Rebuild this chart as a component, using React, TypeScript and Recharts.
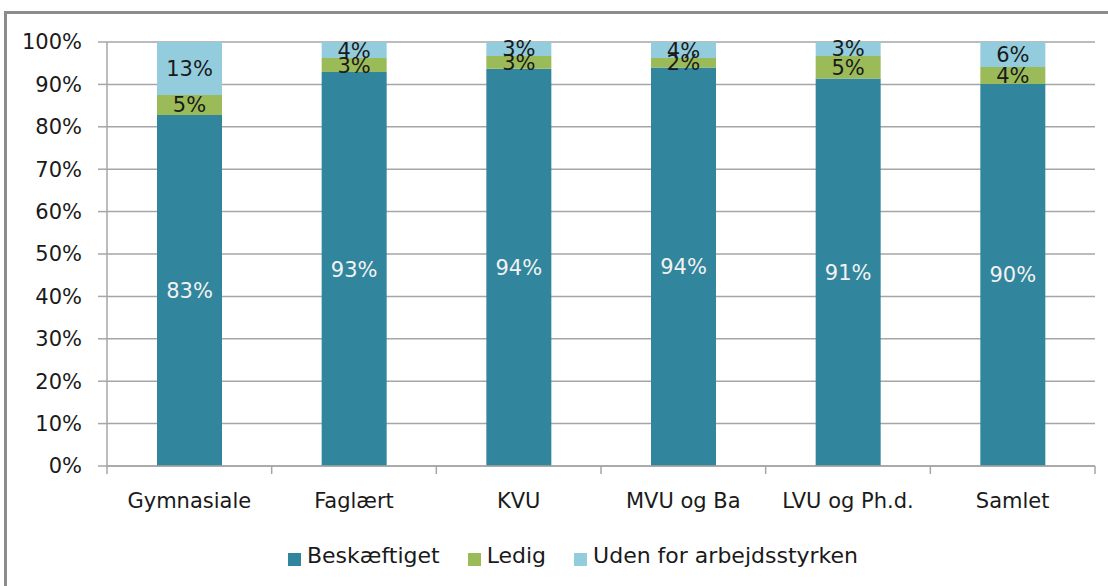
import React from 'react';
import { BarChart, Bar, XAxis, YAxis, CartesianGrid, Legend, LabelList } from 'recharts';

const categories = ['Gymnasiale', 'Faglært', 'KVU', 'MVU og Ba', 'LVU og Ph.d.', 'Samlet'];
const beskaeftiget = [82.8, 92.9, 93.7, 94.0, 91.4, 90.1];
const ledig = [4.7, 3.3, 3.0, 2.2, 5.3, 4.0];
const uden = [12.5, 3.8, 3.3, 3.8, 3.3, 5.9];
const yTicks = [0, 10, 20, 30, 40, 50, 60, 70, 80, 90, 100];

const chartData = categories.map((name, i) => ({
  name,
  beskaeftiget: beskaeftiget[i],
  ledig: ledig[i],
  uden: uden[i],
}));

const FONT = '"DejaVu Sans", sans-serif';
const GRID = '#a6a6a6';
const TEXT = '#1a1a1a';

const pct = (v: any) => `${Math.round(Number(v))}%`;

// category label in the middle, tick marks on the band edges (like Excel)
const CategoryTick = (props: any) => {
  const { x, y, payload, index } = props;
  const half = payload.offset || 0;
  return (
    <g>
      <line x1={x - half} x2={x - half} y1={y - 8} y2={y} stroke={GRID} strokeWidth={1.5} />
      {index === categories.length - 1 && (
        <line x1={x + half} x2={x + half} y1={y - 8} y2={y} stroke={GRID} strokeWidth={1.5} />
      )}
      <text x={x} y={y + 34} textAnchor="middle" fill={TEXT} fontSize={21} fontFamily={FONT}>
        {payload.value}
      </text>
    </g>
  );
};

export default function App() {
  return (
    <div style={{ position: 'absolute', left: 0, top: 0, width: 1108, height: 586, background: '#fff', overflow: 'hidden' }}>
      <div
        style={{
          position: 'absolute',
          left: 4,
          top: 11,
          width: 1200,
          height: 700,
          border: '3px solid #8c8c8c',
          boxSizing: 'border-box',
        }}
      />
      <div style={{ position: 'absolute', left: 0, top: 0 }}>
        <BarChart
          width={1108}
          height={586}
          data={chartData}
          margin={{ top: 42, right: 13, left: 7, bottom: 18 }}
          barSize={65}
        >
          <CartesianGrid vertical={false} stroke={GRID} strokeWidth={1.5} />
          <XAxis
            dataKey="name"
            height={77}
            axisLine={{ stroke: GRID, strokeWidth: 1.5 }}
            tickLine={false}
            tick={<CategoryTick />}
            interval={0}
          />
          <YAxis
            width={100}
            domain={[0, 100]}
            ticks={yTicks}
            tickFormatter={(v) => `${v}%`}
            axisLine={{ stroke: GRID, strokeWidth: 1.5 }}
            tickLine={{ stroke: GRID, strokeWidth: 1.5 }}
            tickSize={9}
            tickMargin={16}
            tick={{ fill: TEXT, fontSize: 21, fontFamily: FONT }}
            interval={0}
          />
          <Legend
            verticalAlign="bottom"
            align="center"
            iconType="square"
            iconSize={13}
            wrapperStyle={{ paddingLeft: 72, boxSizing: 'border-box' }}
            formatter={(value) => (
              <span style={{ color: TEXT, fontSize: 22, fontFamily: FONT, marginLeft: 2, paddingRight: 18 }}>{value}</span>
            )}
          />
          <Bar dataKey="beskaeftiget" name="Beskæftiget" stackId="a" fill="#31859c" isAnimationActive={false}>
            <LabelList dataKey="beskaeftiget" position="center" formatter={pct} fill="#f2f2f2" fontSize={21} fontFamily={FONT} />
          </Bar>
          <Bar dataKey="ledig" name="Ledig" stackId="a" fill="#9bbb59" isAnimationActive={false}>
            <LabelList dataKey="ledig" position="center" formatter={pct} fill={TEXT} fontSize={21} fontFamily={FONT} />
          </Bar>
          <Bar dataKey="uden" name="Uden for arbejdsstyrken" stackId="a" fill="#93cddd" isAnimationActive={false}>
            <LabelList dataKey="uden" position="center" formatter={pct} fill={TEXT} fontSize={21} fontFamily={FONT} />
          </Bar>
        </BarChart>
      </div>
    </div>
  );
}
